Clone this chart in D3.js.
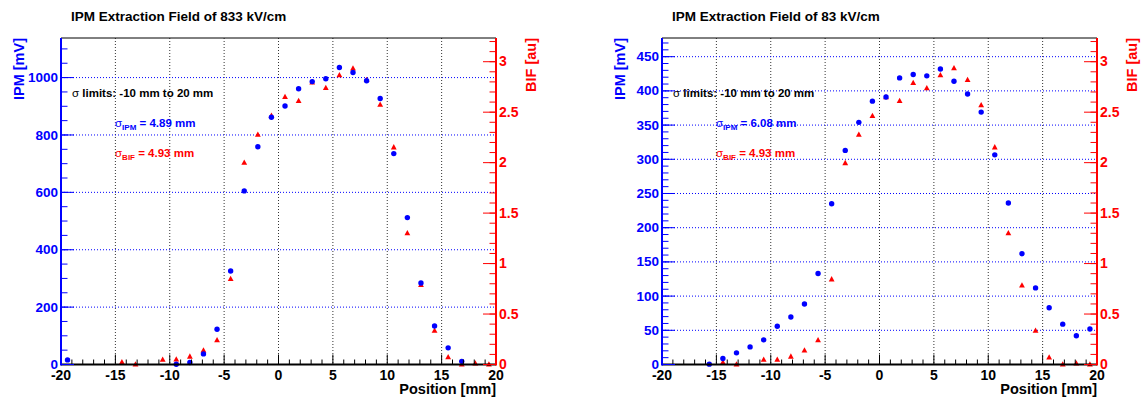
<!DOCTYPE html>
<html lang="en">
<head>
<meta charset="UTF-8">
<title>IPM vs BIF profiles</title>
<script src="https://cdn.jsdelivr.net/npm/d3@7/dist/d3.min.js"></script>
<style>
  * { margin: 0; padding: 0; box-sizing: border-box; }
  body { background: #fff; font-family: "Liberation Sans", Arial, sans-serif; }
  #chart svg { display: block; }
</style>
</head>
<body>
<div id="chart"></div>
<script>
// scan positions [mm], shared by both runs
const positions = [-19.4, -18.15, -16.9, -15.65, -14.4, -13.15, -11.9, -10.65, -9.4, -8.15,
                   -6.9, -5.65, -4.4, -3.15, -1.9, -0.65, 0.6, 1.85, 3.1, 4.35,
                   5.6, 6.85, 8.1, 9.35, 10.6, 11.85, 13.1, 14.35, 15.6, 16.85, 18.1, 19.35];

// 833 kV/cm run (null = no point drawn)
const ipm833 = [16, null, null, null, null, null, null, null, 1, 7,
                37, 123, 326, 605, 759, 862, 901, 961, 986, 996,
                1035, 1018, 989, 927, 735, 512, 284, 134, 58, 11, null, null];
const bif833 = [null, null, null, null, 0.023, 0, null, 0.047, 0.05, 0.079,
                0.139, 0.241, 0.847, 2.0, 2.277, 2.466, 2.651, 2.612, 2.794, 2.741,
                2.867, 2.933, 2.82, 2.575, 2.152, 1.301, 0.788, 0.335, 0.073, 0, 0.01, 0];

// 83 kV/cm run
const ipm83 = [null, null, null, 0.5, 8.8, 17, 25.7, 36, 56, 69.5,
               88.5, 133, 235, 313, 354, 385, 391, 419, 424, 422,
               432, 414, 395.5, 369, 306.5, 236, 162, 112, 83, 59, 42, 52];
const bif83 = [null, null, null, null, 0.02, 0, null, 0.047, 0.047, 0.079,
               0.139, 0.241, 0.844, 1.996, 2.277, 2.463, 2.648, 2.612, 2.79, 2.738,
               2.867, 2.936, 2.82, 2.569, 2.152, 1.301, 0.784, 0.335, 0.07, 0, 0.01, 0];

const xTicks = [-20, -15, -10, -5, 0, 5, 10, 15, 20];
const bifTicks = [0, 0.5, 1, 1.5, 2, 2.5, 3];
const ipmTicks833 = [0, 200, 400, 600, 800, 1000];
const ipmTicks83 = [0, 50, 100, 150, 200, 250, 300, 350, 400, 450];

const W = 1142, H = 399;
const plotW = 435, plotTop = 38, plotBottom = 364.5;
const blue = "#0000ff", red = "#ff0000";

const panels = [
    { left: 61, title: "IPM Extraction Field of 833 kV/cm", ipm: ipm833, bif: bif833,
      ipmMax: 1138, ipmTicks: ipmTicks833, ipmMinor: 50, sigIpm: "4.89", sigBif: "4.93" },
    { left: 662, title: "IPM Extraction Field of 83 kV/cm", ipm: ipm83, bif: bif83,
      ipmMax: 477.3, ipmTicks: ipmTicks83, ipmMinor: 10, sigIpm: "6.08", sigBif: "4.93" }
];

const svg = d3.select("#chart").append("svg")
    .attr("width", W)
    .attr("height", H);

svg.append("rect").attr("width", W).attr("height", H).attr("fill", "#fff");

function drawPanel(p) {
    const g = svg.append("g").attr("transform", `translate(${p.left},0)`);

    const x = d3.scaleLinear().domain([-20, 20]).range([0, plotW]);
    const yL = d3.scaleLinear().domain([0, p.ipmMax]).range([plotBottom, plotTop]);
    const yR = d3.scaleLinear().domain([0, 3.235]).range([plotBottom, plotTop]);

    // title
    svg.append("text")
        .attr("x", p.left + 10)
        .attr("y", 21)
        .style("font-size", "13.5px")
        .style("font-weight", "bold")
        .text(p.title);

    // grid
    g.append("g").selectAll("line")
        .data(xTicks.slice(1, -1))
        .join("line")
        .attr("x1", d => x(d)).attr("x2", d => x(d))
        .attr("y1", plotTop).attr("y2", plotBottom)
        .attr("stroke", "#333")
        .attr("stroke-dasharray", "1,2");

    g.append("g").selectAll("line")
        .data(p.ipmTicks.slice(1))
        .join("line")
        .attr("x1", 0).attr("x2", plotW)
        .attr("y1", d => yL(d)).attr("y2", d => yL(d))
        .attr("stroke", blue)
        .attr("stroke-dasharray", "1,2");

    // sigma annotations
    const note = g.append("g").style("font-weight", "bold");
    const t1 = note.append("text").attr("x", 11).attr("y", 96.5).style("font-size", "11.5px");
    t1.append("tspan").style("font-weight", "normal").text("σ");
    t1.append("tspan").text(" limits: -10 mm to 20 mm");

    [[p.sigIpm, "IPM", blue, 126.5], [p.sigBif, "BIF", red, 156.5]].forEach(([v, sub, col, yy]) => {
        const t = note.append("text").attr("x", 54).attr("y", yy)
            .attr("fill", col).style("font-size", "11.5px");
        t.append("tspan").style("font-weight", "normal").text("σ");
        t.append("tspan").attr("dy", 3).style("font-size", "8px").text(sub);
        t.append("tspan").attr("dy", -3).text(` = ${v} mm`);
    });

    // data points: triangles for BIF, then circles for IPM on top
    const bifPts = positions.map((pos, i) => [pos, p.bif[i]]).filter(d => d[1] !== null);
    const ipmPts = positions.map((pos, i) => [pos, p.ipm[i]]).filter(d => d[1] !== null);

    g.append("g").selectAll("path")
        .data(bifPts)
        .join("path")
        .attr("transform", d => `translate(${x(d[0])},${yR(d[1])})`)
        .attr("d", "M0,-3.2L2.9,2.1L-2.9,2.1Z")
        .attr("fill", red);

    g.append("g").selectAll("circle")
        .data(ipmPts)
        .join("circle")
        .attr("cx", d => x(d[0]))
        .attr("cy", d => yL(d[1]))
        .attr("r", 2.7)
        .attr("fill", blue);

    // frame top
    g.append("line")
        .attr("x1", 0).attr("x2", plotW).attr("y1", plotTop).attr("y2", plotTop)
        .attr("stroke", "#000").attr("stroke-width", 1);

    // bottom axis
    const xMinor = d3.range(-20, 21, 1).filter(d => d % 5 !== 0);
    const xa = g.append("g");
    xa.selectAll(".minor").data(xMinor).join("line")
        .attr("x1", d => x(d)).attr("x2", d => x(d))
        .attr("y1", plotBottom).attr("y2", plotBottom - 5)
        .attr("stroke", "#000");
    xa.selectAll(".major").data(xTicks).join("line")
        .attr("x1", d => x(d)).attr("x2", d => x(d))
        .attr("y1", plotBottom).attr("y2", plotBottom - 10)
        .attr("stroke", "#000");
    xa.selectAll("text").data(xTicks).join("text")
        .attr("x", d => x(d))
        .attr("y", plotBottom + 15.5)
        .attr("text-anchor", "middle")
        .style("font-size", "14px")
        .style("font-weight", "bold")
        .text(d => d);
    xa.append("line")
        .attr("x1", 0).attr("x2", plotW).attr("y1", plotBottom).attr("y2", plotBottom)
        .attr("stroke", "#000").attr("stroke-width", 2);
    xa.append("text")
        .attr("x", plotW)
        .attr("y", 394)
        .attr("text-anchor", "end")
        .style("font-size", "14.5px")
        .style("font-weight", "bold")
        .text("Position [mm]");

    // left IPM axis
    const la = g.append("g");
    la.selectAll(".minor").data(d3.range(0, p.ipmMax, p.ipmMinor)).join("line")
        .attr("x1", 0).attr("x2", 6.5)
        .attr("y1", d => yL(d)).attr("y2", d => yL(d))
        .attr("stroke", blue);
    la.selectAll(".major").data(p.ipmTicks).join("line")
        .attr("x1", 0).attr("x2", 13)
        .attr("y1", d => yL(d)).attr("y2", d => yL(d))
        .attr("stroke", blue);
    la.selectAll("text").data(p.ipmTicks).join("text")
        .attr("x", -3)
        .attr("y", d => yL(d))
        .attr("dy", "0.34em")
        .attr("text-anchor", "end")
        .attr("fill", blue)
        .style("font-size", "13.5px")
        .style("font-weight", "bold")
        .text(d => d);
    la.append("line")
        .attr("x1", 0).attr("x2", 0).attr("y1", plotTop).attr("y2", plotBottom + 1)
        .attr("stroke", blue).attr("stroke-width", 2);
    la.append("text")
        .attr("transform", `translate(-37.5,${plotTop}) rotate(-90)`)
        .attr("text-anchor", "end")
        .attr("fill", blue)
        .style("font-size", "14.5px")
        .style("font-weight", "bold")
        .text("IPM [mV]");

    // right BIF axis
    const ra = g.append("g");
    ra.selectAll(".minor").data(d3.range(0, 3.23, 0.1)).join("line")
        .attr("x1", plotW).attr("x2", plotW - 6.5)
        .attr("y1", d => yR(d)).attr("y2", d => yR(d))
        .attr("stroke", red);
    ra.selectAll(".major").data(bifTicks).join("line")
        .attr("x1", plotW).attr("x2", plotW - 13)
        .attr("y1", d => yR(d)).attr("y2", d => yR(d))
        .attr("stroke", red);
    ra.selectAll("text").data(bifTicks).join("text")
        .attr("x", plotW + 3)
        .attr("y", d => yR(d))
        .attr("dy", "0.34em")
        .attr("fill", red)
        .style("font-size", "14px")
        .style("font-weight", "bold")
        .text(d => d);
    ra.append("line")
        .attr("x1", plotW).attr("x2", plotW).attr("y1", plotTop).attr("y2", plotBottom + 1)
        .attr("stroke", red).attr("stroke-width", 2);
    ra.append("text")
        .attr("transform", `translate(${plotW + 39.5},${plotTop}) rotate(-90)`)
        .attr("text-anchor", "end")
        .attr("fill", red)
        .style("font-size", "14.5px")
        .style("font-weight", "bold")
        .text("BIF [au]");
}

panels.forEach(drawPanel);
</script>
</body>
</html>
